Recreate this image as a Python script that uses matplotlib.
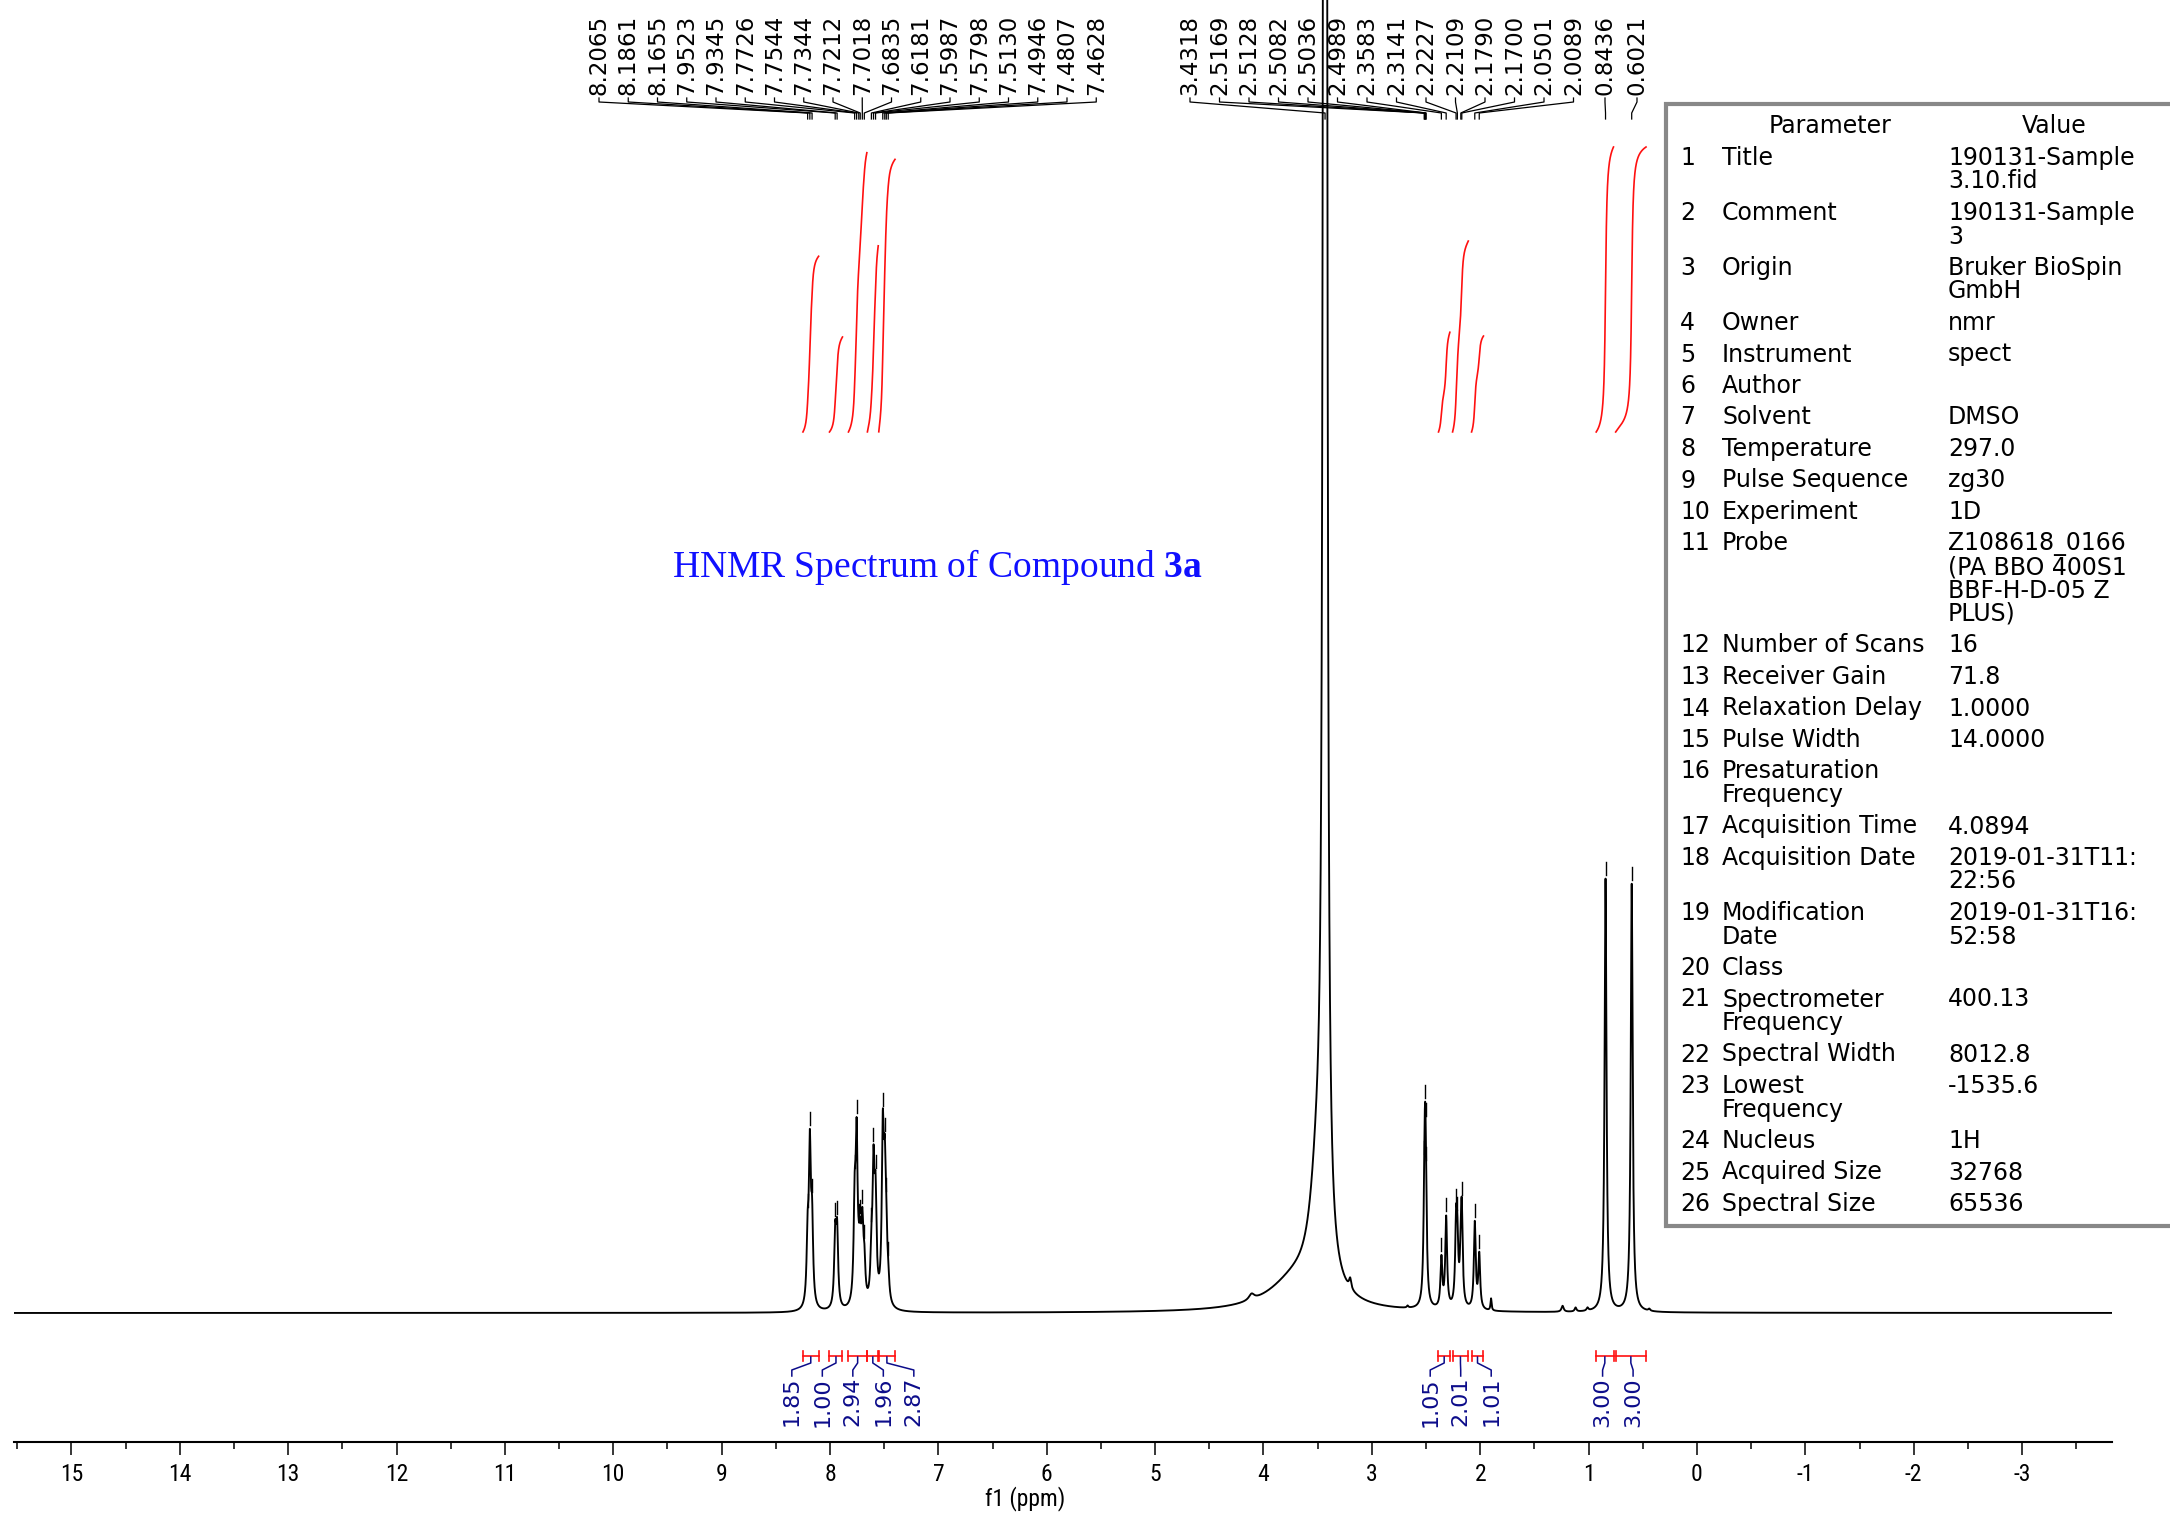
import numpy as np
import matplotlib
matplotlib.use("Agg")
import matplotlib.pyplot as plt
from matplotlib import font_manager as fm
from matplotlib.transforms import Affine2D, blended_transform_factory
from matplotlib.lines import Line2D
from matplotlib.patches import Rectangle

# ---------------- data ----------------
# picked (labelled) peaks, ppm
picked_ppm = [8.2065, 8.1861, 8.1655, 7.9523, 7.9345, 7.7726, 7.7544, 7.7344, 7.7212,
              7.7018, 7.6835, 7.6181, 7.5987, 7.5798, 7.5130, 7.4946, 7.4807, 7.4628,
              3.4318, 2.5169, 2.5128, 2.5082, 2.5036, 2.4989, 2.3583, 2.3141, 2.2227,
              2.2109, 2.1790, 2.1700, 2.0501, 2.0089, 0.8436, 0.6021]
picked_group = [0] * 18 + [1] * 14 + [2] * 2

# spectral lines (ppm, height, half width)
arom_ppm = [8.2065, 8.1861, 8.1655, 7.9523, 7.9345, 7.7726, 7.7544, 7.7344, 7.7212,
            7.7018, 7.6835, 7.6181, 7.5987, 7.5798, 7.5130, 7.4946, 7.4807, 7.4628]
arom_height = [62, 152, 78, 70, 73, 91, 156, 18, 46, 70, 37, 42, 126, 96, 162, 110, 50, 18]
arom_hwhm = 0.011

aliph_ppm = [2.5169, 2.5128, 2.5082, 2.5036, 2.4989, 2.3583, 2.3141, 2.2227, 2.2109,
             2.1790, 2.1700, 2.0501, 2.0089]
aliph_height = [28, 56, 84, 56, 28, 49, 90, 75, 56, 40, 83, 86, 54]
aliph_hwhm = 0.010

methyl_ppm = [0.8436, 0.6021]
methyl_height = [433, 428]
methyl_hwhm = 0.0105

water_ppm = [3.4318, 3.50, 3.70]
water_height = [20000, 110, 30]
water_hwhm = [0.00524, 0.08, 0.30]

minor_ppm = [4.11, 3.20, 2.67, 1.90, 1.24, 1.12, 1.01, 0.44]
minor_height = [6, 10, 2, 12, 6, 4, 3, 2]
minor_hwhm = [0.03, 0.012, 0.008, 0.006, 0.012, 0.01, 0.01, 0.01]

# integrals
int_from = [8.25, 8.005, 7.83, 7.655, 7.55, 2.385, 2.255, 2.08, 0.93, 0.75]
int_to = [8.105, 7.885, 7.66, 7.555, 7.40, 2.28, 2.11, 1.97, 0.77, 0.47]
int_value = [1.85, 1.00, 2.94, 1.96, 2.87, 1.05, 2.01, 1.01, 3.00, 3.00]
int_group = [0, 0, 0, 0, 0, 1, 1, 1, 2, 2]

tick_values = list(range(15, -4, -1))
tick_labels = [str(v) for v in tick_values]

param_names = ["Title", "Comment", "Origin", "Owner", "Instrument", "Author", "Solvent",
               "Temperature", "Pulse Sequence", "Experiment", "Probe", "Number of Scans",
               "Receiver Gain", "Relaxation Delay", "Pulse Width", "Presaturation\nFrequency",
               "Acquisition Time", "Acquisition Date", "Modification\nDate", "Class",
               "Spectrometer\nFrequency", "Spectral Width", "Lowest\nFrequency", "Nucleus",
               "Acquired Size", "Spectral Size"]
param_values = ["190131-Sample\n3.10.fid", "190131-Sample\n3", "Bruker BioSpin\nGmbH", "nmr",
                "spect", "", "DMSO", "297.0", "zg30", "1D",
                "Z108618_0166\n(PA BBO 400S1\nBBF-H-D-05 Z\nPLUS)", "16", "71.8", "1.0000",
                "14.0000", "", "4.0894", "2019-01-31T11:\n22:56", "2019-01-31T16:\n52:58", "",
                "400.13", "8012.8", "-1535.6", "1H", "32768", "65536"]

# ---------------- fonts ----------------
avail = {f.name for f in fm.fontManager.ttflist}
def pick(*names):
    for n in names:
        if n in avail:
            return n
    return "DejaVu Sans"
narrow = pick("Liberation Sans Narrow", "DejaVu Sans Condensed", "Roboto Condensed")
serif = pick("Liberation Serif", "DejaVu Serif")
plt.rcParams["font.family"] = ["DejaVu Sans"]
plt.rcParams["mathtext.fontset"] = "custom"
plt.rcParams["mathtext.rm"] = serif
plt.rcParams["mathtext.bf"] = serif + ":bold"
axis_fs = 17 if narrow != "DejaVu Sans" else 13

# ---------------- figure ----------------
W, H = 2170, 1517
fig = plt.figure(figsize=(W / 100, H / 100), dpi=100)
ax_l, ax_r, ax_t, ax_b = 14, 2112, 0, 1442
base_px = 1313
ax = fig.add_axes([ax_l / W, (H - ax_b) / H, (ax_r - ax_l) / W, (ax_b - ax_t) / H])
ax.set_xlim(15.53, -3.83)
ax.set_ylim(-(ax_b - base_px), base_px - ax_t)
for s in ("top", "left", "right"):
    ax.spines[s].set_visible(False)
ax.spines["bottom"].set_linewidth(1.5)
ax.set_yticks([])
ax.set_xticks(tick_values, labels=tick_labels)
ax.set_xticks(np.arange(-3.5, 15.6, 0.5), minor=True)
ax.tick_params(axis="x", which="major", length=9, width=1.1, pad=6, labelsize=axis_fs)
ax.tick_params(axis="x", which="minor", length=5, width=1.1)
for lab in ax.get_xticklabels():
    lab.set_fontfamily(narrow)

px = Affine2D().scale(1, -1).translate(0, H)      # figure pixels, origin top-left
xd_ypx = blended_transform_factory(ax.transData, px)

def ppm2px(p):
    return ax.transData.transform((p, 0))[0]

# ---------------- spectrum ----------------
ppm = np.linspace(15.53, -3.83, 90000)
def lor(x0, h, w):
    return h * w * w / ((ppm - x0) ** 2 + w * w)

spec = np.zeros_like(ppm)
for p, h in zip(arom_ppm, arom_height):
    spec += lor(p, h, arom_hwhm)
for p, h in zip(aliph_ppm, aliph_height):
    spec += lor(p, h, aliph_hwhm)
for p, h in zip(methyl_ppm, methyl_height):
    spec += lor(p, h, methyl_hwhm)
for p, h, w in zip(water_ppm, water_height, water_hwhm):
    spec += lor(p, h, w)
for p, h, w in zip(minor_ppm, minor_height, minor_hwhm):
    spec += lor(p, h, w)

ax.plot(ppm, spec, color="black", lw=1.35, zorder=3)

# peak-pick marks
for p in picked_ppm:
    yv = np.interp(p, ppm[::-1], spec[::-1])
    if yv + 18 < base_px:
        ax.plot([p, p], [yv + 4, yv + 17], color="black", lw=1.0, zorder=3)

# peak labels
grp_start = {0: 599, 1: 1190, 2: 1605}
grp_step = {0: 29.25, 1: 29.5, 2: 32}
counts = {}
for p, g in zip(picked_ppm, picked_group):
    k = counts.get(g, 0)
    counts[g] = k + 1
    lx = grp_start[g] + k * grp_step[g]
    pxp = ppm2px(p)
    fig.text(lx, 95, f"{p:.4f}", rotation=90, ha="center", va="bottom", fontsize=16.5,
             transform=px, family="DejaVu Sans")
    fig.add_artist(Line2D([lx, lx, pxp, pxp], [98, 102, 113, 119], color="black", lw=0.9,
                          transform=px))

# ---------------- integrals ----------------
red = "#ff1010"
navy = "#0c0c8a"
unit_px = 95
curve_base = 432
mids = [(a + b) / 2 for a, b in zip(int_from, int_to)]
for a, b, v in zip(int_from, int_to, int_value):
    m = (ppm <= a) & (ppm >= b)
    cum = np.cumsum(spec[m])
    frac = cum / cum[-1]
    ax.plot(ppm[m], curve_base - v * unit_px * frac, color=red, lw=1.2, transform=xd_ypx, zorder=4)
    ax.plot([a, b], [1356, 1356], color=red, lw=1.2, transform=xd_ypx)
    for e in (a, b):
        ax.plot([e, e], [1351, 1361], color=red, lw=1.2, transform=xd_ypx)

label_step = 30.5
for g in sorted(set(int_group)):
    idx = [i for i, gg in enumerate(int_group) if gg == g]
    cxs = [ppm2px(mids[i]) for i in idx]
    center = np.mean(cxs)
    n = len(idx)
    for k, i in enumerate(idx):
        lx = center + (k - (n - 1) / 2) * label_step
        cx = cxs[k]
        fig.text(lx, 1377, f"{int_value[i]:.2f}", rotation=90, ha="center", va="top",
                 fontsize=16, color=navy, transform=px)
        fig.add_artist(Line2D([lx, lx, cx, cx], [1376, 1370, 1363, 1357], color=navy, lw=1.1,
                              transform=px))

# ---------------- title text ----------------
fig.text(937, 567, "HNMR Spectrum of Compound $\\mathbf{3a}$", ha="center", va="center",
         fontsize=27, color="#1010ff", family=serif, transform=px)

fig.text(1025, 1499, "f1 (ppm)", ha="center", va="center", fontsize=axis_fs,
         family=narrow, transform=px)

# ---------------- parameter table ----------------
tl, tt, tb = 1666, 104, 1226
fig.add_artist(Rectangle((tl, tt), W - tl + 20, tb - tt, transform=px, facecolor="white",
                         edgecolor="#888888", lw=3.0, zorder=6))
tfs = 17
fig.text(1830, 126, "Parameter", ha="center", va="center", fontsize=tfs, transform=px, zorder=7)
fig.text(2054, 126, "Value", ha="center", va="center", fontsize=tfs, transform=px, zorder=7)
y = 158
for i, (nm, val) in enumerate(zip(param_names, param_values)):
    nlines = max(nm.count("\n"), val.count("\n")) + 1
    fig.text(1680, y, str(i + 1), ha="left", va="center", fontsize=tfs, transform=px, zorder=7)
    for k, t in enumerate(nm.split("\n")):
        fig.text(1722, y + k * 23.5, t, ha="left", va="center", fontsize=tfs, transform=px, zorder=7)
    for k, t in enumerate(val.split("\n")):
        if t:
            fig.text(1948, y + k * 23.5, t, ha="left", va="center", fontsize=tfs, transform=px, zorder=7)
    y += 31.5 + 23.5 * (nlines - 1)

fig.savefig("out.png", dpi=100)
